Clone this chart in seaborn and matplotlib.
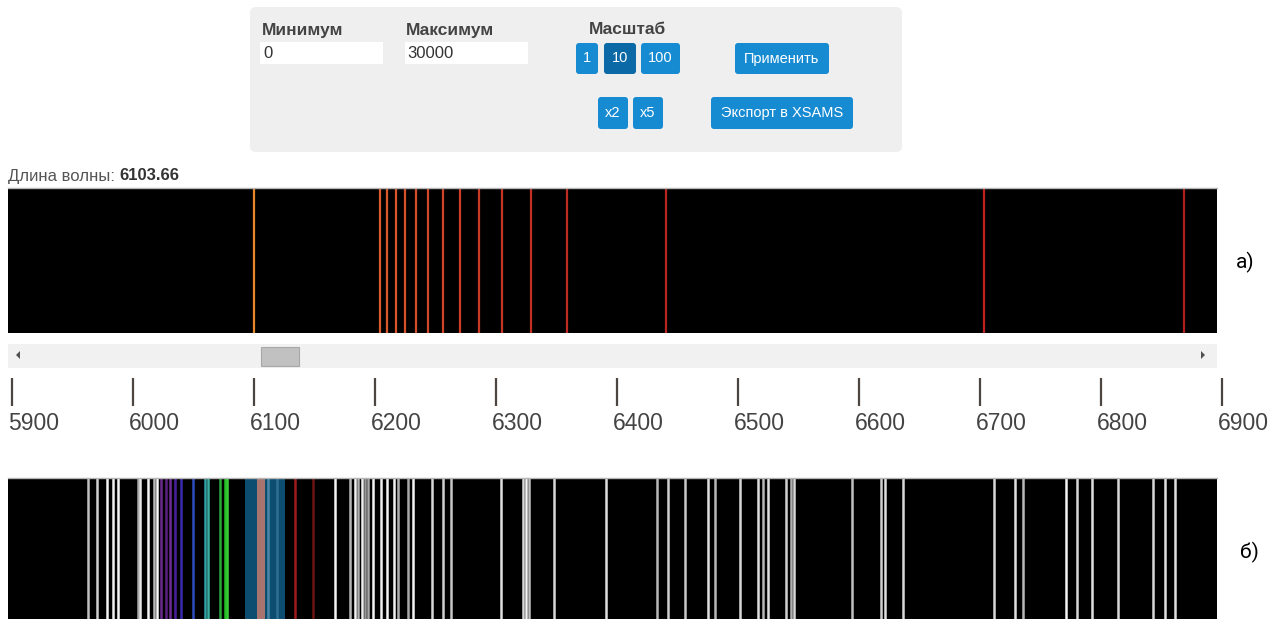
import matplotlib
matplotlib.use("Agg")
import matplotlib.pyplot as plt
import matplotlib.transforms as mtransforms
import seaborn as sns
import pandas as pd
from matplotlib import font_manager
from matplotlib.patches import FancyBboxPatch, Rectangle, Polygon

# ---------------- data ----------------
# panel a) emission lines (wavelength, Å) and their colours
a_wavelengths = [6100.0, 6204.1, 6209.9, 6217.4, 6224.8, 6233.9, 6243.8, 6256.2,
                 6270.2, 6286.0, 6305.0, 6328.9, 6358.7, 6440.5, 6703.3, 6868.6]
a_colors = ['#e8862a', '#d95a2b', '#d9582b', '#d8552a', '#d5512a', '#d34c29',
            '#d14828', '#cf4427', '#cc3f26', '#c93a25', '#c63524', '#c23023',
            '#be2b22', '#b82420', '#c0201e', '#b01e1c']

# panel б) lines
b_wavelengths = [5962.8, 5970.2, 5978.5, 5983.5, 5987.6, 6004.1, 6005.8, 6012.4,
                 6017.4, 6019.8, 6023.1, 6027.3, 6030.6, 6034.7, 6039.7, 6049.6,
                 6059.5, 6062.0, 6071.9, 6076.0, 6077.7, 6111.6, 6119.0, 6133.9,
                 6148.8, 6166.9, 6179.3, 6183.5, 6186.0, 6189.3, 6191.7, 6194.2,
                 6198.3, 6205.0, 6209.9, 6215.7, 6219.0, 6227.3, 6231.4, 6247.1,
                 6256.2, 6262.8, 6304.1, 6322.3, 6324.8, 6327.3, 6347.9, 6390.9,
                 6433.1, 6442.1, 6456.2, 6475.2, 6481.0, 6501.7, 6516.5, 6520.7,
                 6524.8, 6539.7, 6543.8, 6546.3, 6594.2, 6618.2, 6621.5, 6636.4,
                 6711.6, 6728.9, 6735.5, 6771.1, 6780.2, 6792.6, 6814.0, 6843.0,
                 6852.9, 6861.2]
b_colors = ['#c0c0c0', '#d0d0d0', '#f4f4f4', '#f0f0f0', '#f4f4f4', '#a8a8a8',
            '#e8e8e8', '#f4f4f4', '#b8b8b8', '#f8f8f8', '#6a2a8c', '#5a1f80',
            '#6c2c92', '#4a1f9a', '#3a2aae', '#2e4cc0', '#2fa0a6', '#3cb0a0',
            '#2aa83a', '#22c022', '#3ad03a', '#4a86a6', '#2f6f90', '#a01a1a',
            '#6e1212', '#f4f4f4', '#b8b8b8', '#f4f4f4', '#b0b0b0', '#f0f0f0',
            '#989898', '#a8a8a8', '#f4f4f4', '#f0f0f0', '#f4f4f4', '#f0f0f0',
            '#b0b0b0', '#a8a8a8', '#f4f4f4', '#d8d8d8', '#d0d0d0', '#c8c8c8',
            '#e0e0e0', '#d8d8d8', '#f4f4f4', '#c0c0c0', '#d8d8d8', '#e0e0e0',
            '#b8b8b8', '#d0d0d0', '#c8c8c8', '#e0e0e0', '#b8b8b8', '#d8d8d8',
            '#e0e0e0', '#b8b8b8', '#e0e0e0', '#d0d0d0', '#b0b0b0', '#d8d8d8',
            '#c0c0c0', '#d0d0d0', '#e0e0e0', '#d8d8d8', '#d8d8d8', '#e0e0e0',
            '#b8b8b8', '#f4f4f4', '#d8d8d8', '#e0e0e0', '#d8d8d8', '#d8d8d8',
            '#e0e0e0', '#e0e0e0']
band_starts = [6092.6, 6102.5, 6109.1]
band_ends = [6102.5, 6109.1, 6125.6]
band_colors = ['#0d4d70', '#a8746e', '#0d4d70']

tick_values = [5900, 6000, 6100, 6200, 6300, 6400, 6500, 6600, 6700, 6800, 6900]
tick_labels = [str(v) for v in tick_values]

current_wavelength = "6103.66"
min_value = "0"
max_value = "30000"

# ---------------- style ----------------
sns.set_theme(style="white")
installed = {f.name for f in font_manager.fontManager.ttflist}
UI = 'Liberation Sans' if 'Liberation Sans' in installed else 'DejaVu Sans'
NARROW = 'Liberation Sans Narrow' if 'Liberation Sans Narrow' in installed else 'Roboto'
plt.rcParams['font.family'] = [UI, 'DejaVu Sans']

W, H = 1271, 619
fig = plt.figure(figsize=(W / 100, H / 100), dpi=100)
fig.patch.set_facecolor('white')


def px_axes(x0, y0, x1, y1):
    return fig.add_axes([x0 / W, 1 - y1 / H, (x1 - x0) / W, (y1 - y0) / H])


def lam_at(x):
    # pixel -> wavelength mapping of the screen scale
    return 5900 + (x - 12) / 1.21


# ---------------- decorations (pixel coordinates) ----------------
deco = px_axes(0, 0, W, H)
deco.set_xlim(0, W)
deco.set_ylim(H, 0)
deco.axis('off')

deco.add_patch(FancyBboxPatch((250, 7), 652, 145, boxstyle="round,pad=0,rounding_size=6",
                              fc='#efefef', ec='none'))
lab_kw = dict(fontsize=12.5, fontweight='bold', color='#444444', va='center')
deco.text(262, 30, "Минимум", **lab_kw)
deco.text(406, 30, "Максимум", **lab_kw)
deco.text(628, 30, "Масштаб", ha='center', **lab_kw)
deco.add_patch(Rectangle((260, 42), 123, 22, fc='white', ec='none'))
deco.add_patch(Rectangle((405, 42), 123, 22, fc='white', ec='none'))
deco.text(263, 53, min_value, fontsize=12, color='#333333', va='center')
deco.text(407, 53, max_value, fontsize=12, color='#333333', va='center')

buttons = [
    ("1", 576, 43, 22, 31, '#178bd1'),
    ("10", 604, 43, 32, 31, '#0b69a6'),
    ("100", 641, 43, 39, 31, '#178bd1'),
    ("Применить", 735, 43, 94, 31, '#178bd1'),
    ("x2", 598, 97, 30, 32, '#178bd1'),
    ("x5", 633, 97, 30, 32, '#178bd1'),
    ("Экспорт в XSAMS", 711, 97, 142, 32, '#178bd1'),
]
for txt, bx, by, bw, bh, col in buttons:
    deco.add_patch(FancyBboxPatch((bx, by), bw, bh, boxstyle="round,pad=0,rounding_size=3",
                                  fc=col, ec='none'))
    deco.text(bx + bw / 2, by + bh / 2, txt, fontsize=10.5, color='white',
              ha='center', va='center')

t1 = deco.text(8, 176, "Длина волны: ", fontsize=12, color='#555555', va='center')
deco.annotate(current_wavelength, xy=(1, 0), xycoords=t1, va='bottom', ha='left',
              fontsize=12, fontweight='bold', color='#333333')

# scrollbar
deco.add_patch(Rectangle((8, 344), 1209, 24, fc='#f1f1f1', ec='none'))
deco.add_patch(Rectangle((261, 347), 38, 19, fc='#c1c1c1', ec='#a8a8a8', lw=0.8))
deco.add_patch(Polygon([(16, 355), (20, 351), (20, 359)], closed=True, fc='#505050', ec='none'))
deco.add_patch(Polygon([(1205, 355), (1201, 351), (1201, 359)], closed=True, fc='#505050', ec='none'))

deco.text(1236, 262, "a)", fontsize=15, color='black', va='center', family=[NARROW, 'DejaVu Sans'])
deco.text(1240, 552, "б)", fontsize=15, color='black', va='center', family=[NARROW, 'DejaVu Sans'])


def style_spectrum(ax):
    ax.set_facecolor('black')
    ax.set_xlim(lam_at(8), lam_at(1217))
    ax.set_ylim(0, 1)
    ax.set_xticks([])
    ax.set_yticks([])
    for side in ['left', 'right', 'bottom']:
        ax.spines[side].set_visible(False)
    ax.spines['top'].set_color('#b5b5b5')
    ax.spines['top'].set_linewidth(1.0)


# ---------------- panel a) ----------------
ax_a = px_axes(8, 188, 1217, 333)
style_spectrum(ax_a)
df_a = pd.DataFrame({"wavelength": a_wavelengths, "color": a_colors})
sns.rugplot(data=df_a, x="wavelength", hue="color", palette={c: c for c in a_colors},
            height=1, linewidth=1.6, ax=ax_a, legend=False, expand_margins=False)
ax_a.set_xlabel("")
ax_a.set_ylabel("")
ax_a.set_ylim(0, 1)

# ---------------- scale ----------------
ax_s = px_axes(0, 378, W, 406)
ax_s.set_xlim(lam_at(0), lam_at(W))
ax_s.set_ylim(0, 1)
ax_s.set_facecolor('none')
for sp in ax_s.spines.values():
    sp.set_visible(False)
ax_s.set_yticks([])
ax_s.set_xticks(tick_values, tick_labels)
ax_s.tick_params(axis='x', direction='in', length=20, width=1.6, color='#4d4540',
                 pad=4, labelsize=16.5, labelcolor='#444444', bottom=True)
shift = mtransforms.ScaledTranslation(-4 / 100, 0, fig.dpi_scale_trans)
for lbl in ax_s.get_xticklabels():
    lbl.set_horizontalalignment('left')
    lbl.set_transform(lbl.get_transform() + shift)

# ---------------- panel б) ----------------
ax_b = px_axes(8, 478, 1217, 619)
style_spectrum(ax_b)
for s, e, c in zip(band_starts, band_ends, band_colors):
    ax_b.axvspan(s, e, color=c, lw=0)
df_b = pd.DataFrame({"wavelength": b_wavelengths, "color": b_colors})
sns.rugplot(data=df_b, x="wavelength", hue="color", palette={c: c for c in b_colors},
            height=1, linewidth=1.8, ax=ax_b, legend=False, expand_margins=False)
ax_b.set_xlabel("")
ax_b.set_ylabel("")
ax_b.set_ylim(0, 1)

fig.savefig("out.png", dpi=100, facecolor='white')
